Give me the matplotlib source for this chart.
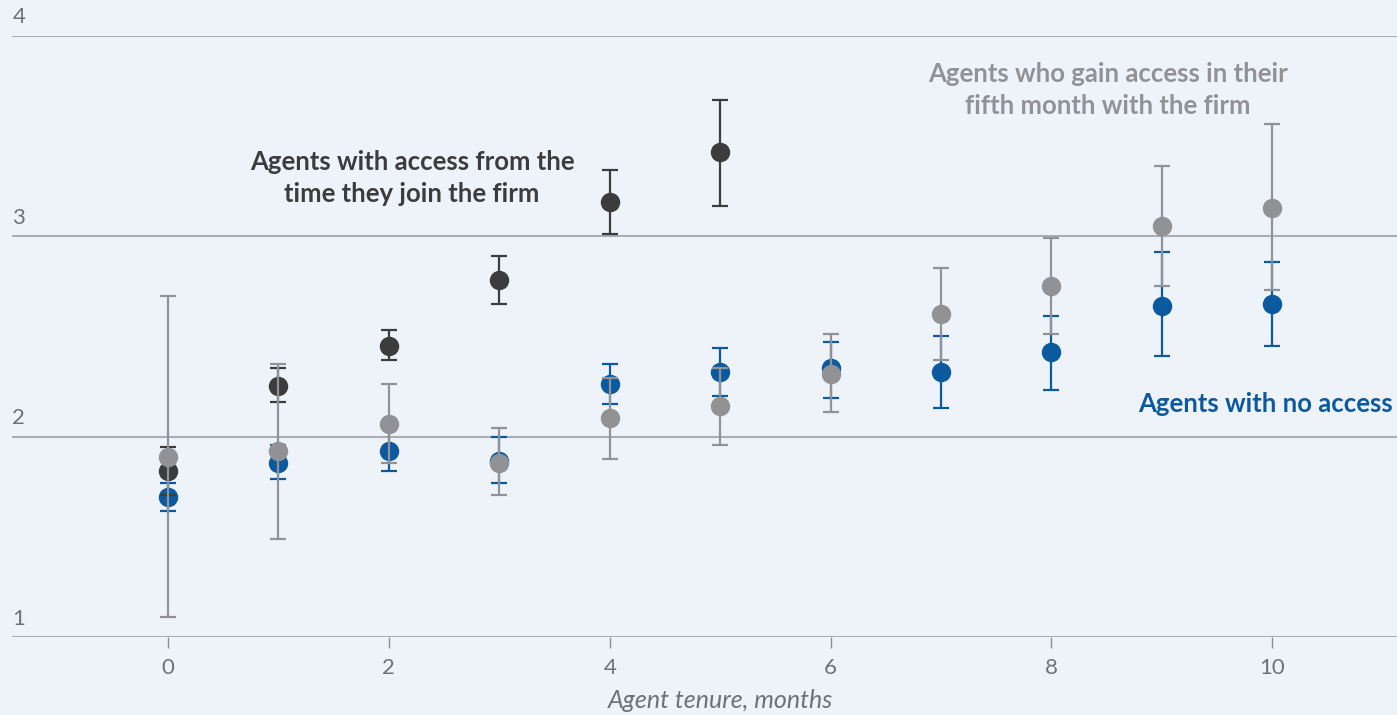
import matplotlib.pyplot as plt

# months of tenure
months_early = [0, 1, 2, 3, 4, 5]
months_all = [0, 1, 2, 3, 4, 5, 6, 7, 8, 9, 10]

# agents with access from the time they join the firm
early_mean = [1.83, 2.25, 2.45, 2.78, 3.17, 3.42]
early_low = [1.71, 2.17, 2.38, 2.66, 3.01, 3.15]
early_high = [1.95, 2.34, 2.53, 2.90, 3.33, 3.68]

# agents who gain access in their fifth month
fifth_mean = [1.90, 1.93, 2.06, 1.87, 2.09, 2.15, 2.31, 2.61, 2.75, 3.05, 3.14]
fifth_low = [1.10, 1.49, 1.87, 1.71, 1.89, 1.96, 2.12, 2.38, 2.51, 2.75, 2.73]
fifth_high = [2.70, 2.36, 2.26, 2.04, 2.29, 2.34, 2.51, 2.84, 2.99, 3.35, 3.56]

# agents with no access
none_mean = [1.70, 1.87, 1.93, 1.88, 2.26, 2.32, 2.34, 2.32, 2.42, 2.65, 2.66]
none_low = [1.63, 1.79, 1.83, 1.77, 2.16, 2.20, 2.19, 2.14, 2.23, 2.40, 2.45]
none_high = [1.77, 1.96, 2.04, 2.00, 2.36, 2.44, 2.47, 2.50, 2.60, 2.92, 2.87]

y_ticks = [1, 2, 3, 4]
x_ticks = [0, 2, 4, 6, 8, 10]

bg = '#eef3fa'
dark = '#3b3c3e'
gray = '#909295'
blue = '#0b5aa0'
grid_color = '#a9aeb4'
label_color = '#6e7175'

plt.rcParams['font.family'] = ['Lato', 'DejaVu Sans']

fig = plt.figure(figsize=(13.97, 7.15), dpi=100, facecolor=bg)
ax = fig.add_axes([12 / 1397, 1 - 637 / 715, 1 - 12 / 1397, (637 - 35.5) / 715])
ax.set_facecolor(bg)


def errs(mean, low, high):
    return [[m - l for m, l in zip(mean, low)], [h - m for m, h in zip(mean, high)]]


ax.errorbar(months_all, none_mean, yerr=errs(none_mean, none_low, none_high),
            fmt='o', color=blue, ms=13, elinewidth=1.6, capsize=6, capthick=1.6, zorder=3)
ax.errorbar(months_early, early_mean, yerr=errs(early_mean, early_low, early_high),
            fmt='o', color=dark, ms=13, elinewidth=1.6, capsize=6, capthick=1.6, zorder=4)
ax.errorbar(months_all, fifth_mean, yerr=errs(fifth_mean, fifth_low, fifth_high),
            fmt='o', color=gray, ms=13, elinewidth=1.6, capsize=6, capthick=1.6, zorder=5)

ax.set_xlim(-1.413, 11.13)
ax.set_ylim(1, 4)

for v in y_ticks:
    ax.axhline(v, color=grid_color, lw=1.5, zorder=1)
    ax.text(-1.41, v + 0.04, str(v), color=label_color, fontsize=16, ha='left', va='bottom')

ax.set_yticks([])
ax.set_xticks(x_ticks)
ax.set_xticklabels([str(t) for t in x_ticks], color=label_color, fontsize=16)
ax.tick_params(axis='x', length=8, width=1, color='#8a8e93', pad=7)
for s in ['top', 'right', 'left', 'bottom']:
    ax.spines[s].set_visible(False)

ax.text(5, -0.105, 'Agent tenure, months', transform=ax.get_xaxis_transform(),
        ha='center', va='center', style='italic', color=label_color, fontsize=18)

ax.text(2.21, 3.29, 'Agents with access from the\ntime they join the firm', color=dark,
        fontsize=18.5, fontweight='bold', ha='center', va='center', linespacing=1.4)
ax.text(8.51, 3.73, 'Agents who gain access in their\nfifth month with the firm', color=gray,
        fontsize=18.5, fontweight='bold', ha='center', va='center', linespacing=1.4)
ax.text(11.09, 2.16, 'Agents with no access', color=blue,
        fontsize=18.5, fontweight='bold', ha='right', va='center')

plt.savefig('out.png', dpi=100, facecolor=bg)
